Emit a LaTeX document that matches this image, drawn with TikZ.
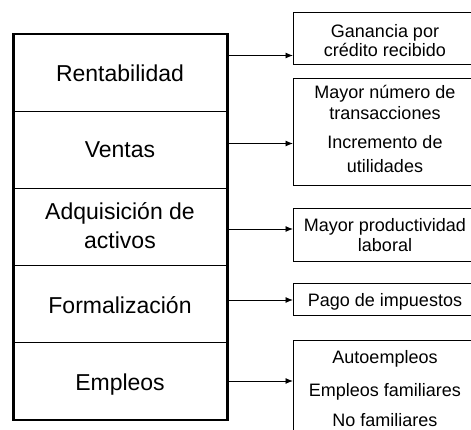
\documentclass[tikz,border=0pt]{standalone}
\usepackage{fontspec}
\setmainfont{Liberation Sans}
\usetikzlibrary{arrows.meta}
\begin{document}
\begin{tikzpicture}[x=1pt,y=-1pt,
  cell/.style={draw, line width=0.9pt, minimum width=213.6pt, minimum height=77pt, inner sep=0pt, anchor=north west},
  rbox/.style={draw, line width=0.8pt, minimum width=184pt, inner sep=0pt, anchor=north west},
  ltxt/.style={anchor=base, inner sep=0pt, font=\fontsize{23pt}{28pt}\selectfont},
  rtxt/.style={anchor=base, inner sep=0pt, font=\fontsize{18pt}{22pt}\selectfont},
  arr/.style={line width=0.9pt, -{Latex[length=7.5pt,width=6pt]}}]
\useasboundingbox (0,0) rectangle (471,430);
\clip (0,0) rectangle (471,430);
% left column cells
\node[cell] (c1) at (13.2,34.2) {};
\node[cell] (c2) at (13.2,111.2) {};
\node[cell] (c3) at (13.2,188.2) {};
\node[cell] (c4) at (13.2,265.2) {};
\node[cell] (c5) at (13.2,342.2) {};
\draw[line width=2.6pt] (c1.north west) rectangle (c5.south east);
\node[ltxt] (t1) at (120,81.5) {Rentabilidad};
\node[ltxt] (t2) at (120,157.5) {Ventas};
\node[ltxt] (t3a) at (120,220) {Adquisición de};
\node[ltxt] (t3b) at (120,248.5) {activos};
\node[ltxt] (t4) at (120,313.3) {Formalización};
\node[ltxt] (t5) at (120,390.7) {Empleos};
% right boxes
\node[rbox, minimum height=52pt] (r1) at (293,12) {};
\node[rbox, minimum height=107pt] (r2) at (293,78) {};
\node[rbox, minimum height=53pt] (r3) at (293,208) {};
\node[rbox, minimum height=32pt] (r4) at (293,283) {};
\node[rbox, minimum height=110pt] (r5) at (293,340) {};
\node[rtxt] (s1a) at (385,37.3) {Ganancia por};
\node[rtxt] (s1b) at (385,56.5) {crédito recibido};
\node[rtxt] (s2a) at (385,98.3) {Mayor número de};
\node[rtxt] (s2b) at (385,119.3) {transacciones};
\node[rtxt] (s2c) at (385,148.3) {Incremento de};
\node[rtxt] (s2d) at (385,172.5) {utilidades};
\node[rtxt] (s3a) at (385,231.7) {Mayor productividad};
\node[rtxt] (s3b) at (385,251.7) {laboral};
\node[rtxt] (s4) at (385,306.5) {Pago de impuestos};
\node[rtxt] (s5a) at (385,363.3) {Autoempleos};
\node[rtxt] (s5b) at (385,396.7) {Empleos familiares};
\node[rtxt] (s5c) at (385,426.7) {No familiares};
% arrows
\coordinate (a1) at (228,55.5);
\coordinate (a2) at (228,143.5);
\coordinate (a3) at (228,229);
\coordinate (a4) at (228,300);
\coordinate (a5) at (228,381);
\draw[arr] (a1) -- (a1 -| r1.west);
\draw[arr] (a2) -- (a2 -| r2.west);
\draw[arr] (a3) -- (a3 -| r3.west);
\draw[arr] (a4) -- (a4 -| r4.west);
\draw[arr] (a5) -- (a5 -| r5.west);
\end{tikzpicture}
\end{document}
